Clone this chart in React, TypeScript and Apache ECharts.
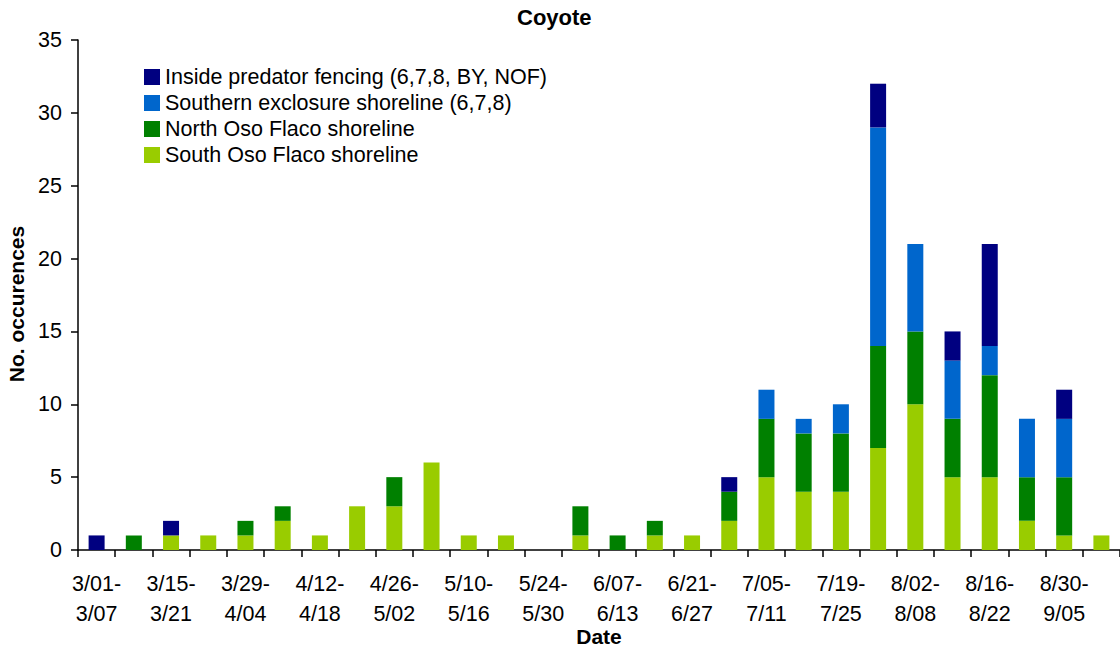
import React, { useEffect, useRef } from "react";
import * as echarts from "echarts";

const weeks = [
  "3/01-3/07", "3/08-3/14", "3/15-3/21", "3/22-3/28", "3/29-4/04", "4/05-4/11",
  "4/12-4/18", "4/19-4/25", "4/26-5/02", "5/03-5/09", "5/10-5/16", "5/17-5/23",
  "5/24-5/30", "5/31-6/06", "6/07-6/13", "6/14-6/20", "6/21-6/27", "6/28-7/04",
  "7/05-7/11", "7/12-7/18", "7/19-7/25", "7/26-8/01", "8/02-8/08", "8/09-8/15",
  "8/16-8/22", "8/23-8/29", "8/30-9/05", "9/06-9/12",
];

const southOsoFlaco = [0, 0, 1, 1, 1, 2, 1, 3, 3, 6, 1, 1, 0, 1, 0, 1, 1, 2, 5, 4, 4, 7, 10, 5, 5, 2, 1, 1];
const northOsoFlaco = [0, 1, 0, 0, 1, 1, 0, 0, 2, 0, 0, 0, 0, 2, 1, 1, 0, 2, 4, 4, 4, 7, 5, 4, 7, 3, 4, 0];
const southernExclosure = [0, 0, 0, 0, 0, 0, 0, 0, 0, 0, 0, 0, 0, 0, 0, 0, 0, 0, 2, 1, 2, 15, 6, 4, 2, 4, 4, 0];
const insidePredator = [1, 0, 1, 0, 0, 0, 0, 0, 0, 0, 0, 0, 0, 0, 0, 0, 0, 1, 0, 0, 0, 3, 0, 2, 7, 0, 2, 0];

const seriesNames = [
  "South Oso Flaco shoreline",
  "North Oso Flaco shoreline",
  "Southern exclosure shoreline (6,7,8)",
  "Inside predator fencing (6,7,8, BY, NOF)",
];
const seriesColors = ["#99CC00", "#008000", "#0066CC", "#000080"];
const seriesData = [southOsoFlaco, northOsoFlaco, southernExclosure, insidePredator];

const FONT = '"Liberation Sans", Arial, sans-serif';

export default function App() {
  const ref = useRef<HTMLDivElement>(null);
  useEffect(() => {
    if (!ref.current) return;
    const chart = echarts.init(ref.current, undefined, { renderer: "svg" });
    chart.setOption({
      animation: false,
      backgroundColor: "#ffffff",
      textStyle: { fontFamily: FONT, color: "#000" },
      title: {
        text: "Coyote",
        left: 512,
        top: 1,
        textStyle: { fontFamily: FONT, fontWeight: "bold", fontSize: 22, color: "#000" },
      },
      legend: {
        orient: "vertical",
        left: 144,
        top: 66,
        padding: 0,
        itemWidth: 16,
        itemHeight: 16,
        itemGap: 4,
        icon: "rect",
        data: [...seriesNames].reverse(),
        textStyle: { fontFamily: FONT, fontSize: 21.5, color: "#000" },
      },
      grid: { left: 78, right: 0, top: 40, bottom: 99, containLabel: false, outerBoundsMode: "none" },
      xAxis: {
        type: "category",
        data: weeks,
        boundaryGap: true,
        name: "Date",
        nameLocation: "middle",
        nameGap: 76,
        nameMoveOverlap: false,
        nameTextStyle: { fontFamily: FONT, fontWeight: "bold", fontSize: 21, color: "#000" },
        axisLine: { show: true, lineStyle: { color: "#000", width: 1.5 } },
        axisTick: { show: true, interval: 0, length: 7, lineStyle: { color: "#000", width: 1.5 } },
        axisLabel: {
          interval: 1,
          margin: 19,
          fontFamily: FONT,
          fontSize: 21.5,
          lineHeight: 30,
          color: "#000",
          formatter: (v: string) => {
            const i = v.indexOf("-");
            return v.slice(0, i + 1) + "\n" + v.slice(i + 1);
          },
        },
        splitLine: { show: false },
      },
      yAxis: {
        type: "value",
        min: 0,
        max: 35,
        interval: 5,
        name: "No. occurences",
        nameLocation: "middle",
        nameGap: 51,
        nameTextStyle: {
          fontFamily: FONT,
          fontWeight: "bold",
          fontSize: 21,
          color: "#000",
          padding: [0, 18, 0, 0],
        },
        axisLine: { show: true, lineStyle: { color: "#000", width: 1.5 } },
        axisTick: { show: true, length: 7, lineStyle: { color: "#000", width: 1.5 } },
        axisLabel: { margin: 16, fontFamily: FONT, fontSize: 21.5, color: "#000" },
        splitLine: { show: false },
      },
      series: seriesNames.map((name, k) => ({
        name,
        type: "bar",
        stack: "total",
        barWidth: 16,
        itemStyle: { color: seriesColors[k] },
        data: seriesData[k],
      })),
    });
    return () => chart.dispose();
  }, []);
  return (
    <div
      ref={ref}
      style={{ position: "absolute", left: 0, top: 0, width: 1120, height: 649, background: "#fff" }}
    />
  );
}
